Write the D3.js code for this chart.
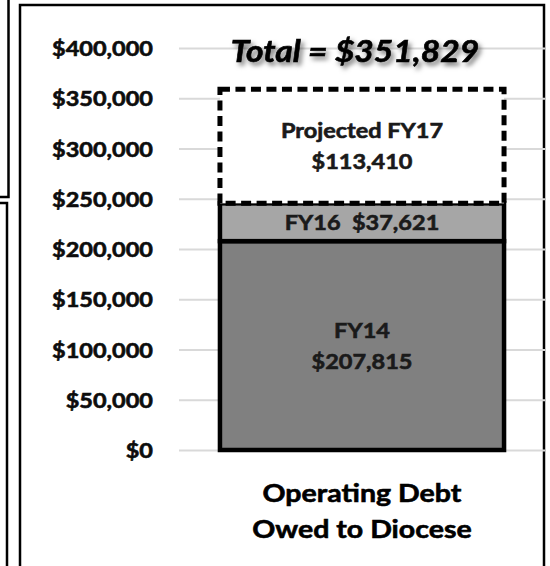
<!DOCTYPE html>
<html>
<head>
<meta charset="utf-8">
<script src="https://cdn.jsdelivr.net/npm/d3@7"></script>
<style>
  body { margin: 0; background: #fff; }
  svg { display: block; }
  text { font-family: Lato, "Open Sans", sans-serif; font-weight: bold; }
</style>
</head>
<body>
<div id="chart"></div>
<script>
// chart values
const categories = ["Operating Debt Owed to Diocese"]
const categoryLines = ["Operating Debt", "Owed to Diocese"]
const seriesKeys = ["FY14", "FY16", "FY17"]
const seriesValues = [207815, 37621, 113410]
const segmentLabels = [["FY14", "$207,815"], ["FY16  $37,621"], ["Projected FY17", "$113,410"]]
const yTicks = [0, 50000, 100000, 150000, 200000, 250000, 300000, 350000, 400000]
const titleText = "Total = $351,829"

const W = 550, H = 566
const PLOT = { LEFT: 179, RIGHT: 545, TOP: 48, BOTTOM: 450 }
const SX = 1.12   // the source picture is a bit stretched sideways
const BOLDEN = 0.6  // extra stroke so the bold face looks as heavy as the original
const fills = { FY14: "#808080", FY16: "#a6a6a6", FY17: "#ffffff" }

const svg = d3.select("#chart").append("svg")
	.attr("width", W)
	.attr("height", H)

const defs = svg.append("defs")
const shadow = defs.append("filter").attr("id", "shadow")
	.attr("x", "-10%").attr("y", "-30%").attr("width", "130%").attr("height", "170%")
shadow.append("feDropShadow")
	.attr("dx", 2.5).attr("dy", 3.5).attr("stdDeviation", 2.2)
	.attr("flood-color", "#000").attr("flood-opacity", 0.5)

// slide frames
svg.append("path")
	.attr("d", "M8.5,0V197H0M0,203H7V566")
	.attr("fill", "none").attr("stroke", "#000").attr("stroke-width", 2.5)
svg.append("path")
	.attr("d", `M20,${H}V5H544V${H}`)
	.attr("fill", "none").attr("stroke", "#000").attr("stroke-width", 2.5)

const x = d3.scaleBand()
	.domain(categories)
	.range([PLOT.LEFT, PLOT.RIGHT])
	.padding(0.126)

const y = d3.scaleLinear()
	.domain([0, 400000])
	.range([PLOT.BOTTOM, PLOT.TOP])

// y axis + gridlines
const yAxis = svg.append("g")
	.attr("transform", `translate(${PLOT.LEFT},0)`)
	.call(d3.axisLeft(y)
		.tickValues(yTicks)
		.tickSize(-(PLOT.RIGHT - PLOT.LEFT))
		.tickPadding(26)
		.tickFormat(d => "$" + d3.format(",")(d)))
yAxis.select(".domain").remove()
yAxis.selectAll(".tick line")
	.attr("stroke", "#d9d9d9")
	.attr("stroke-width", 2)
yAxis.selectAll(".tick text")
	.attr("font-size", 21)
	.attr("fill", "#0d0d0d")
	.attr("stroke", "#0d0d0d")
	.attr("stroke-width", BOLDEN)
	.attr("x", -26 / SX)
	.attr("dy", "0.36em")
	.attr("transform", `scale(${SX},1)`)
	.style("font-family", "Lato, 'Open Sans', sans-serif")
	.style("font-weight", "bold")

// stacked data
const row = { cat: categories[0] }
seriesKeys.forEach((k, i) => row[k] = seriesValues[i])
const stacked = d3.stack().keys(seriesKeys)([row])

const bars = svg.append("g")
stacked.forEach((s, i) => {
	const d = s[0]
	const projected = s.key === "FY17"
	bars.append("rect")
		.attr("x", x(d.data.cat))
		.attr("width", x.bandwidth())
		.attr("y", y(d[1]))
		.attr("height", y(d[0]) - y(d[1]))
		.attr("fill", fills[s.key])
		.attr("stroke", "#000")
		.attr("stroke-width", projected ? 5 : 4.5)
		.attr("stroke-dasharray", projected ? "10,5.5" : null)
})

// segment labels
const cx = x(categories[0]) + x.bandwidth() / 2
const lineGap = 31
stacked.forEach((s, i) => {
	const d = s[0]
	const lines = segmentLabels[i]
	const mid = (y(d[0]) + y(d[1])) / 2
	lines.forEach((t, j) => {
		const ty = mid + (j - (lines.length - 1) / 2) * lineGap
		svg.append("text")
			.attr("transform", `translate(${cx},${ty}) scale(${SX},1)`)
			.attr("text-anchor", "middle")
			.attr("dy", "0.36em")
			.attr("font-size", 21)
			.attr("fill", "#1a1a1a")
			.attr("stroke", "#1a1a1a")
			.attr("stroke-width", BOLDEN)
			.style("white-space", "pre")
			.text(t)
	})
})

// category label under the bar
categoryLines.forEach((t, j) => {
	svg.append("text")
		.attr("transform", `translate(${cx},${502 + j * 36}) scale(${SX},1)`)
		.attr("text-anchor", "middle")
		.attr("font-size", 25.5)
		.attr("fill", "#000")
		.attr("stroke", "#000")
		.attr("stroke-width", BOLDEN)
		.text(t)
})

// title
svg.append("text")
	.attr("transform", `translate(355,61.5) scale(${SX},1)`)
	.attr("text-anchor", "middle")
	.attr("font-size", 30)
	.attr("font-style", "italic")
	.attr("fill", "#000")
	.attr("stroke", "#000")
	.attr("stroke-width", BOLDEN)
	.attr("filter", "url(#shadow)")
	.text(titleText)
</script>
</body>
</html>
